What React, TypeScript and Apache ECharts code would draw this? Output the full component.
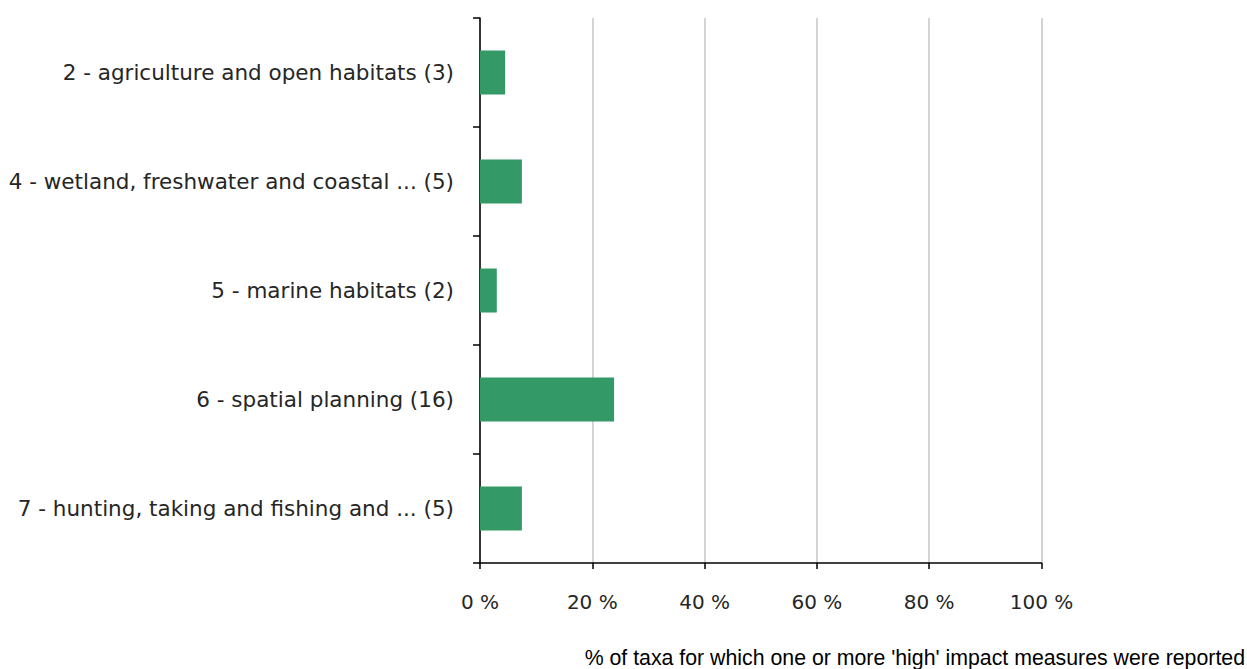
import { useEffect, useRef } from "react";
import * as echarts from "echarts";

const categories = [
    "2 - agriculture and open habitats (3)",
    "4 - wetland, freshwater and coastal ... (5)",
    "5 - marine habitats (2)",
    "6 - spatial planning (16)",
    "7 - hunting, taking and fishing and ... (5)",
];

// share of taxa, in %
const shares = [4.48, 7.46, 2.99, 23.88, 7.46];

const xTicks = [0, 20, 40, 60, 80, 100];

const axisTitle = "% of taxa for which one or more 'high' impact measures were reported";

const App = () => {
    const chartRef = useRef<HTMLDivElement>(null);

    useEffect(() => {
        document.body.style.margin = "0";
        if (!chartRef.current) return;

        const chart = echarts.init(chartRef.current, null, { renderer: "svg" });

        chart.setOption({
            animation: false,
            grid: {
                left: 480,
                top: 18,
                width: 561.5,
                height: 545,
                containLabel: false,
            },
            xAxis: {
                type: "value",
                min: xTicks[0],
                max: xTicks[xTicks.length - 1],
                interval: 20,
                axisLine: { show: true, lineStyle: { color: "#000", width: 1.5 } },
                axisTick: { show: true, length: 6, lineStyle: { color: "#000", width: 1.5 } },
                splitLine: { show: true, lineStyle: { color: "#c6c6c6", width: 1.5 } },
                axisLabel: {
                    formatter: (v: number) => v + " %",
                    margin: 29,
                    color: "#262626",
                    fontFamily: "DejaVu Sans",
                    fontSize: 20,
                },
            },
            yAxis: {
                type: "category",
                data: categories,
                inverse: true,
                axisLine: { show: true, lineStyle: { color: "#000", width: 1.5 } },
                axisTick: { show: true, length: 7, lineStyle: { color: "#000", width: 1.5 } },
                axisLabel: {
                    margin: 26,
                    color: "#262626",
                    fontFamily: "DejaVu Sans",
                    fontSize: 21.5,
                },
            },
            series: [
                {
                    type: "bar",
                    data: shares,
                    barWidth: 44,
                    itemStyle: { color: "#339966" },
                },
            ],
            graphic: [
                {
                    type: "text",
                    x: 1245,
                    y: 658,
                    style: {
                        text: axisTitle,
                        fill: "#000",
                        align: "right",
                        verticalAlign: "middle",
                        font: "21.3px 'Liberation Sans', Arial, sans-serif",
                    },
                },
            ],
        });

        return () => {
            chart.dispose();
        };
    }, []);

    return <div ref={chartRef} style={{ width: "1247px", height: "669px" }} />;
};

export default App;
